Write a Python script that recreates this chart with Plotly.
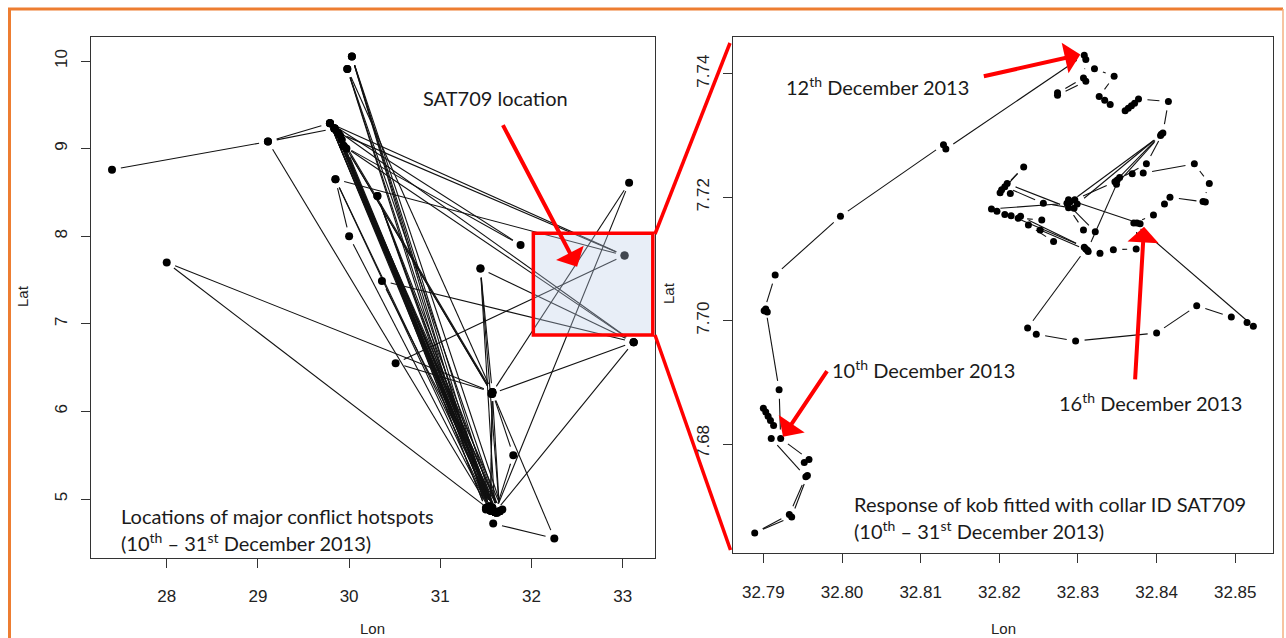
import math
import plotly.graph_objects as go

# ---------------- data ----------------
# Left panel: sequence of visited conflict hotspots (Lon / Lat)
left_lon = [27.40, 29.11, 29.79, 31.55, 29.84, 31.60, 29.94, 31.55, 29.11, 29.84,
            31.65, 29.98, 31.55, 30.03, 31.60, 29.79, 33.02, 30.51, 31.57, 28.00,
            31.55, 29.84, 33.12, 31.56, 33.07, 31.60, 33.12, 30.36, 31.65, 29.94,
            31.88, 29.79, 31.57, 29.85, 30.00, 31.55, 30.31, 31.60, 29.84, 31.65,
            30.31, 31.57, 29.94, 33.12, 31.44, 31.57, 31.55, 31.57, 32.25, 31.58,
            31.60, 31.80, 31.57, 31.65, 31.44, 31.60, 29.79, 31.57, 29.84, 31.55,
            29.85, 33.02, 29.88, 31.50, 29.92, 31.62, 29.97, 31.57, 29.84, 31.68,
            30.03, 31.50, 29.98, 31.57, 29.90, 31.53]
left_lat = [8.76, 9.08, 9.29, 4.87, 9.23, 4.85, 9.03, 4.87, 9.08, 9.23,
            4.86, 9.91, 4.87, 10.05, 4.85, 9.29, 7.78, 6.55, 6.22, 7.70,
            4.87, 9.23, 6.79, 6.20, 8.61, 4.85, 6.79, 7.49, 4.86, 9.03,
            7.90, 9.29, 4.90, 8.65, 8.00, 4.87, 8.46, 4.85, 9.23, 4.86,
            8.46, 4.90, 9.03, 6.79, 7.63, 6.22, 4.87, 6.22, 4.55, 4.72,
            4.85, 5.50, 6.22, 4.86, 7.63, 4.85, 9.29, 4.90, 9.23, 4.87,
            8.65, 7.78, 9.18, 4.88, 9.10, 4.84, 9.00, 6.20, 9.23, 4.88,
            10.05, 4.90, 9.91, 6.22, 9.15, 4.92]

# Right panel: SAT709 kob track (Lon / Lat)
right_lon = [32.7900, 32.7903, 32.7906, 32.7909, 32.7913, 32.7910, 32.7954, 32.7933,
             32.7889, 32.7936, 32.7956, 32.7952, 32.7958, 32.7922, 32.7920, 32.7903,
             32.7905, 32.7901, 32.7915, 32.7998, 32.8129, 32.8132, 32.8308, 32.8310,
             32.8307, 32.8274, 32.8274, 32.8310, 32.8321, 32.8346, 32.8327, 32.8334,
             32.8341, 32.8360, 32.8364, 32.8368, 32.8372, 32.8377, 32.8415, 32.8408,
             32.8387, 32.8350, 32.8369, 32.8383, 32.8448, 32.8467, 32.8459, 32.8462,
             32.8417, 32.8410, 32.8396, 32.8371, 32.8523, 32.8515, 32.8495, 32.8451,
             32.8400, 32.8297, 32.8247, 32.8236, 32.8310, 32.8313, 32.8328, 32.8345,
             32.8374, 32.8375, 32.8379, 32.8288, 32.8296, 32.8347, 32.8406, 32.8299,
             32.8295, 32.8256, 32.8207, 32.8231, 32.8201, 32.8214, 32.8203, 32.8210,
             32.8288, 32.8307, 32.8322, 32.8286, 32.8190, 32.8197, 32.8207, 32.8215,
             32.8308, 32.8227, 32.8224, 32.8254, 32.8252, 32.8269, 32.8237, 32.8312,
             32.8353, 32.8349, 32.8405, 32.8290]
right_lat = [7.6858, 7.6852, 7.6845, 7.6838, 7.6830, 7.6809, 7.6747, 7.6686,
             7.6656, 7.6682, 7.6749, 7.6770, 7.6775, 7.6809, 7.6888, 7.7019,
             7.7014, 7.7016, 7.7074, 7.7169, 7.7285, 7.7278, 7.7430, 7.7423,
             7.7393, 7.7369, 7.7365, 7.7388, 7.7408, 7.7396, 7.7363, 7.7357,
             7.7350, 7.7340, 7.7344, 7.7348, 7.7352, 7.7359, 7.7355, 7.7304,
             7.7254, 7.7228, 7.7238, 7.7239, 7.7254, 7.7222, 7.7193, 7.7192,
             7.7200, 7.7189, 7.7171, 7.7158, 7.6991, 7.6997, 7.7006, 7.7024,
             7.6980, 7.6967, 7.6978, 7.6988, 7.7116, 7.7112, 7.7109, 7.7115,
             7.7116, 7.7158, 7.7157, 7.7196, 7.7196, 7.7225, 7.7302, 7.7189,
             7.7182, 7.7190, 7.7217, 7.7249, 7.7207, 7.7206, 7.7212, 7.7222,
             7.7183, 7.7147, 7.7144, 7.7190, 7.7181, 7.7177, 7.7172, 7.7170,
             7.7119, 7.7169, 7.7166, 7.7163, 7.7147, 7.7128, 7.7155, 7.7114,
             7.7232, 7.7221, 7.7300, 7.7192]

left_xticks = [28, 29, 30, 31, 32, 33]
left_yticks = [5, 6, 7, 8, 9, 10]
right_xticks = [32.79, 32.80, 32.81, 32.82, 32.83, 32.84, 32.85]
right_yticks = [7.68, 7.70, 7.72, 7.74]

# ---------------- layout geometry ----------------
W, H = 1286, 638
L_BOX = (91.3, 655.0, 37.0, 557.7)     # left, right, top, bottom (px)
R_BOX = (732.7, 1273.0, 36.7, 553.3)
L_XR, L_YR = [27.173, 33.354], [4.33, 10.274]
R_XR, R_YR = [32.7861, 32.8548], [7.6623, 7.746]


def px(x):
    return x / W


def py(y):
    return 1 - y / H


def gapped(xs, ys, xr, yr, box, gap=9.0):
    """R type='b' style: line segments that stop short of each point."""
    sx = (box[1] - box[0]) / (xr[1] - xr[0])
    sy = (box[3] - box[2]) / (yr[1] - yr[0])
    ox, oy = [], []
    for i in range(len(xs) - 1):
        dx, dy = xs[i + 1] - xs[i], ys[i + 1] - ys[i]
        ln = math.hypot(dx * sx, dy * sy)
        if ln <= 2 * gap:
            continue
        f = gap / ln
        ox += [xs[i] + f * dx, xs[i + 1] - f * dx, None]
        oy += [ys[i] + f * dy, ys[i + 1] - f * dy, None]
    return ox, oy


fig = go.Figure()

lx, ly = gapped(left_lon, left_lat, L_XR, L_YR, L_BOX)
fig.add_trace(go.Scatter(x=lx, y=ly, mode="lines", line=dict(color="#111", width=1.1),
                         xaxis="x", yaxis="y", showlegend=False, hoverinfo="skip"))
fig.add_trace(go.Scatter(x=left_lon, y=left_lat, mode="markers",
                         marker=dict(color="black", size=8), xaxis="x", yaxis="y",
                         showlegend=False))

rx, ry = gapped(right_lon, right_lat, R_XR, R_YR, R_BOX)
fig.add_trace(go.Scatter(x=rx, y=ry, mode="lines", line=dict(color="#111", width=1.1),
                         xaxis="x2", yaxis="y2", showlegend=False, hoverinfo="skip"))
fig.add_trace(go.Scatter(x=right_lon, y=right_lat, mode="markers",
                         marker=dict(color="black", size=7), xaxis="x2", yaxis="y2",
                         showlegend=False))

tickfont = dict(family="Liberation Sans, Arial, sans-serif", size=17, color="#222")
axis_common = dict(showgrid=False, zeroline=False, showline=True, mirror=True,
                   linecolor="#333", linewidth=1.3, ticks="outside", ticklen=9,
                   tickcolor="#333", tickwidth=1.2, tickfont=tickfont)

fig.update_layout(
    width=W, height=H, margin=dict(l=0, r=0, t=0, b=0),
    paper_bgcolor="white", plot_bgcolor="white",
    xaxis=dict(domain=[px(L_BOX[0]), px(L_BOX[1])], range=L_XR, tickvals=left_xticks,
               ticktext=[str(v) for v in left_xticks], ticklabelstandoff=14,
               anchor="y", **axis_common),
    yaxis=dict(domain=[py(L_BOX[3]), py(L_BOX[2])], range=L_YR, tickvals=left_yticks,
               ticktext=[str(v) for v in left_yticks], tickangle=-90,
               ticklabelstandoff=7, anchor="x", **axis_common),
    xaxis2=dict(domain=[px(R_BOX[0]), px(R_BOX[1])], range=R_XR, tickvals=right_xticks,
                ticktext=[f"{v:.2f}" for v in right_xticks], ticklabelstandoff=14,
                anchor="y2", **axis_common),
    yaxis2=dict(domain=[py(R_BOX[3]), py(R_BOX[2])], range=R_YR, tickvals=right_yticks,
                ticktext=[f"{v:.2f}" for v in right_yticks], tickangle=-90,
                ticklabelstandoff=7, anchor="x2", **axis_common),
)

shapes = []
# highlighted SAT709 region in the left panel
shapes.append(dict(type="rect", xref="x", yref="y", x0=32.02, x1=33.33, y0=6.872, y1=8.033,
                   fillcolor="rgba(190,205,232,0.35)", line=dict(color="#FF0000", width=3.5),
                   layer="above"))
# zoom connector lines
shapes.append(dict(type="line", xref="paper", yref="paper", x0=px(655), y0=py(234),
                   x1=px(730), y1=py(43), line=dict(color="#FF0000", width=3.5)))
shapes.append(dict(type="line", xref="paper", yref="paper", x0=px(655), y0=py(335),
                   x1=px(730.5), y1=py(550), line=dict(color="#FF0000", width=3.5)))
# orange frame
shapes.append(dict(type="path", xref="paper", yref="paper",
                   path=f"M {px(9.5)} {py(660)} L {px(9.5)} {py(9)} L {px(1283)} {py(9)}",
                   line=dict(color="#ED7D31", width=3)))
shapes.append(dict(type="line", xref="paper", yref="paper", x0=px(1283), y0=py(9),
                   x1=px(1283), y1=py(660), line=dict(color="#F4B183", width=1.5)))
fig.update_layout(shapes=shapes)

tfont = dict(family="Lato, Open Sans, sans-serif", size=20, color="#1a1a1a")
afont = dict(family="Liberation Sans, Arial, sans-serif", size=15, color="#222")
ann = []


def text(x, y, s, xanchor="left"):
    ann.append(dict(x=px(x), y=py(y), xref="paper", yref="paper", text=s, showarrow=False,
                    xanchor=xanchor, yanchor="middle", font=tfont))


def title(x, y, s, angle=0):
    ann.append(dict(x=px(x), y=py(y), xref="paper", yref="paper", text=s, showarrow=False,
                    xanchor="center", yanchor="middle", textangle=angle, font=afont))


text(496, 98, "SAT709 location", "center")
text(119, 516, "Locations of major conflict hotspots")
text(119, 542, "(10<sup>th</sup> – 31<sup>st</sup> December 2013)")
text(877, 86, "12<sup>th</sup> December 2013", "center")
text(830, 369, "10<sup>th</sup> December 2013")
text(1150, 402, "16<sup>th</sup> December 2013", "center")
text(852, 504, "Response of kob fitted with collar ID SAT709")
text(852, 530, "(10<sup>th</sup> – 31<sup>st</sup> December 2013)")

# axis titles
title(22, 296, "Lat", -90)
title(372, 628, "Lon")
title(668, 293, "Lat", -90)
title(1003, 628, "Lon")

# red arrows
arrow = dict(showarrow=True, arrowcolor="#FF0000", arrowwidth=4, arrowhead=1, arrowsize=1.3,
             text="")
ann.append(dict(x=32.50, y=7.652, xref="x", yref="y", ax=-75, ay=-143, **arrow))
ann.append(dict(x=32.8303, y=7.7431, xref="x2", yref="y2", ax=-98, ay=22, **arrow))
ann.append(dict(x=32.7925, y=7.6812, xref="x2", yref="y2", ax=45, ay=-67, **arrow))
ann.append(dict(x=32.8384, y=7.7152, xref="x2", yref="y2", ax=-9, ay=154, **arrow))
fig.update_layout(annotations=ann)

fig.write_html("out.html", config={"displayModeBar": False},
               post_script="document.body.style.margin='0';document.body.style.overflow='hidden';")
